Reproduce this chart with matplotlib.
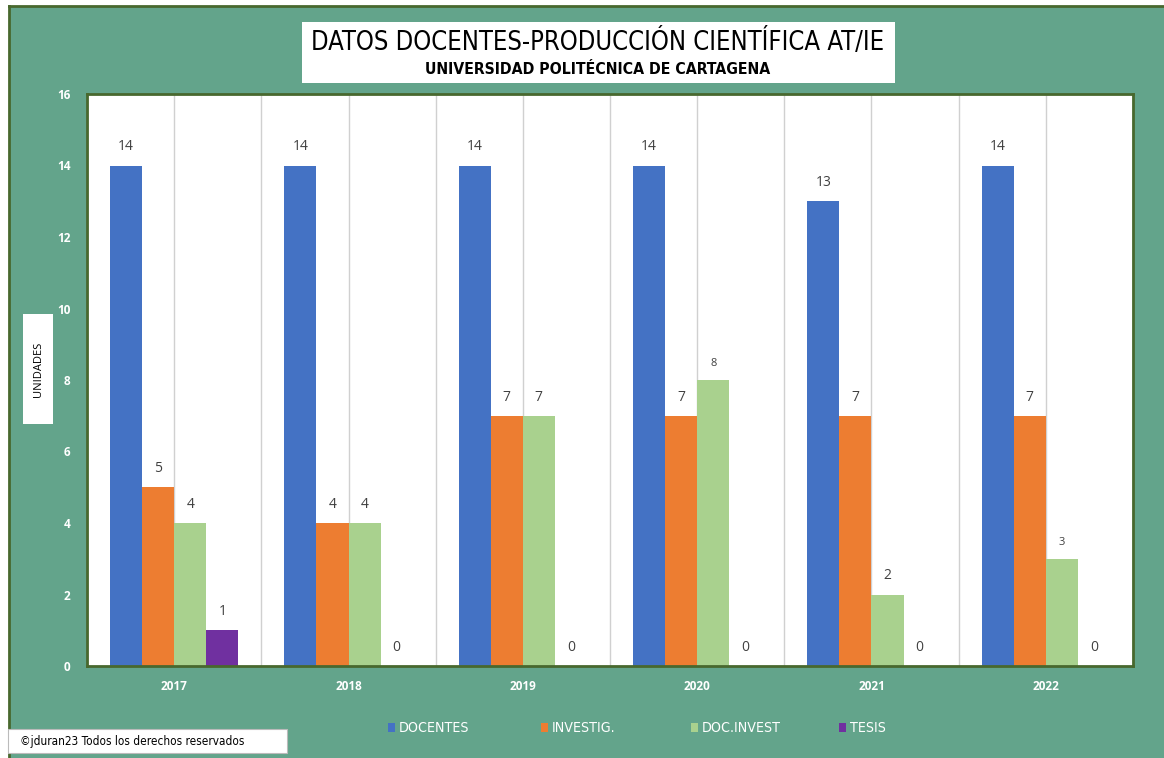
import matplotlib
matplotlib.use("Agg")
import matplotlib.pyplot as plt
from matplotlib.patches import Rectangle
from matplotlib.lines import Line2D
from matplotlib import font_manager
import numpy as np

# Data
years = ["2017", "2018", "2019", "2020", "2021", "2022"]
docentes = [14, 14, 14, 14, 13, 14]
investig = [5, 4, 7, 7, 7, 7]
doc_invest = [4, 4, 7, 8, 2, 3]
tesis = [1, 0, 0, 0, 0, 0]

series_names = ["DOCENTES", "INVESTIG.", "DOC.INVEST", "TESIS"]
series_values = [docentes, investig, doc_invest, tesis]
series_colors = ["#4472C4", "#ED7D31", "#A9D18E", "#7030A0"]

y_ticks = [0, 2, 4, 6, 8, 10, 12, 14, 16]

title = "DATOS DOCENTES-PRODUCCIÓN CIENTÍFICA AT/IE"
subtitle = "UNIVERSIDAD POLITÉCNICA DE CARTAGENA"
y_label = "UNIDADES"
footer = "©jduran23 Todos los derechos reservados"

fonts = font_manager.fontManager.ttflist
has_condensed = any(f.name == "DejaVu Sans" and f.stretch == "condensed" for f in fonts)
narrow = dict(family="DejaVu Sans", stretch="condensed") if has_condensed else dict(family="DejaVu Sans")
base = dict(family="Open Sans")

BG = "#63A48B"
EDGE = "#48682E"

W, H = 1164, 758
fig = plt.figure(figsize=(W / 100, H / 100), dpi=100, facecolor="white")

def fx(px):
    return px / W

def fy(py):
    return 1 - py / H

# green panel, bordered on its top and left edges
fig.patches.append(Rectangle((fx(9), 0), 1 - fx(9), fy(6),
                             transform=fig.transFigure, facecolor=BG,
                             edgecolor="none", zorder=-5))
fig.lines.append(Line2D([fx(9), 1], [fy(6), fy(6)], transform=fig.transFigure,
                        color=EDGE, linewidth=2, zorder=-4))
fig.lines.append(Line2D([fx(9), fx(9)], [0, fy(6)], transform=fig.transFigure,
                        color=EDGE, linewidth=2, zorder=-4))

ax = fig.add_axes([fx(87), fy(666), fx(1133) - fx(87), fy(94) - fy(666)])
ax.set_zorder(2)
ax.set_facecolor("white")
for s in ax.spines.values():
    s.set_color(EDGE)
    s.set_linewidth(2)

x = np.arange(len(years))
w = 0.184
for i, (name, vals, col) in enumerate(zip(series_names, series_values, series_colors)):
    pos = x + (i - 1.5) * w
    ax.bar(pos, vals, width=w, color=col, zorder=2, label=name)
    for p, v in zip(pos, vals):
        small = (name == "DOC.INVEST" and v in (8, 3))
        ax.annotate(str(v), (p, v), xytext=(0, 8), textcoords="offset points",
                    ha="center", va="bottom", fontsize=8 if small else 10,
                    color="#404040", **base)

ax.set_xlim(-0.5, len(years) - 0.5)
ax.set_ylim(0, 16)
ax.set_yticks(y_ticks)
ax.set_yticklabels([str(t) for t in y_ticks], color="white", fontweight="bold",
                   fontsize=8.5, **base)
ax.set_xticks(x)
ax.set_xticklabels(years, color="white", fontweight="bold", fontsize=8.5, **base)
ax.set_xticks(np.arange(-0.5, len(years), 1.0), minor=True)
ax.tick_params(axis="both", which="both", length=0)
ax.tick_params(axis="y", pad=12)
ax.tick_params(axis="x", pad=10)
ax.grid(axis="x", which="both", color="#D0D0D0", linewidth=1, zorder=1)
ax.grid(axis="y", visible=False)
ax.set_axisbelow(True)

# title box
fig.patches.append(Rectangle((fx(302), fy(83)), fx(895) - fx(302), fy(22) - fy(83),
                             transform=fig.transFigure, facecolor="white",
                             edgecolor="none", zorder=3))
fig.text(fx(598), fy(43), title, ha="center", va="center",
         fontsize=18.4 if has_condensed else 16, color="black", zorder=4, **narrow)
fig.text(fx(598), fy(70), subtitle, ha="center", va="center", fontsize=11.3,
         fontweight="bold", color="black", zorder=4, **narrow)

# y-axis label box
fig.patches.append(Rectangle((fx(23), fy(424)), fx(53) - fx(23), fy(314) - fy(424),
                             transform=fig.transFigure, facecolor="white",
                             edgecolor="none", zorder=3))
fig.text(fx(38), fy(369), y_label, ha="center", va="center", rotation=90,
         fontsize=8, color="black", zorder=4, **base)

# legend
legend_x = [388, 541, 691, 839]
for xpos, name, col in zip(legend_x, series_names, series_colors):
    fig.patches.append(Rectangle((fx(xpos), fy(732)), fx(7), fy(723) - fy(732),
                                 transform=fig.transFigure, facecolor=col,
                                 edgecolor="none", zorder=3))
    fig.text(fx(xpos + 11), fy(727.5), name, ha="left", va="center", fontsize=10.2,
             color="white", zorder=4, **narrow)

# footer box
fig.patches.append(Rectangle((fx(8), fy(753)), fx(287) - fx(8), fy(729) - fy(753),
                             transform=fig.transFigure, facecolor="white",
                             edgecolor="#BBBBBB", linewidth=0.8, zorder=3))
fig.text(fx(20), fy(742), footer, ha="left", va="center", fontsize=8.5,
         color="black", zorder=4, **narrow)

fig.savefig("out.png", dpi=100, facecolor="white")
